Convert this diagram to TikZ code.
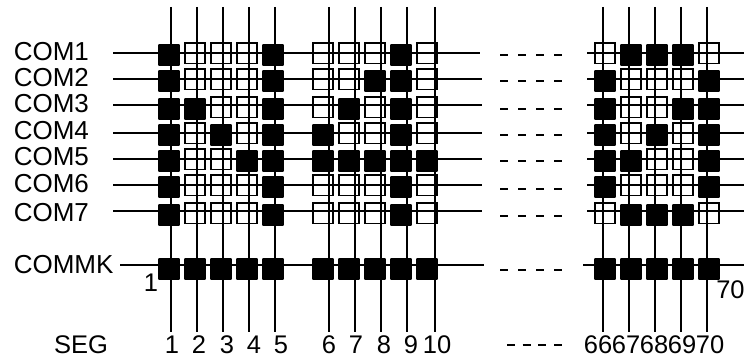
\documentclass[tikz,border=0pt]{standalone}
\usepackage{fontspec}
\setmainfont{Liberation Sans}
\usetikzlibrary{positioning}

\begin{document}
\begin{tikzpicture}[x=1pt, y=-1pt, line width=1.5pt, font=\fontsize{25.5}{26}\selectfont]
    % Styles
    \tikzstyle{cellopen} = [draw, rectangle, line width=1.6pt, minimum size=20.5pt, inner sep=0pt]
    \tikzstyle{cellfull} = [fill=black, rectangle, rounded corners=1pt, minimum size=21.8pt, inner sep=0pt]
    \tikzstyle{rowlabel} = [anchor=base west, inner sep=0pt, font=\fontsize{26}{26}\selectfont]
    \tikzstyle{seglabel} = [anchor=base, inner sep=0pt]
    \tikzstyle{gap} = [line width=2.4pt, dash pattern=on 8pt off 10pt]

    \useasboundingbox (0,0) rectangle (744,358);

    % Segment lines
    \foreach \x in {171,197,223,249,275,329,355,381,407,435,603,629,655,681,707} {
        \coordinate (top\x) at (\x,7);
        \coordinate (bot\x) at (\x,332);
        \draw (top\x) -- (bot\x);
    }

    % Common lines, first part
    \foreach \y/\xa in {53/480,79/482,105/482,133/482,159/482,185/482,211/482} {
        \coordinate (west\y) at (113,\y);
        \coordinate (mid\y) at (\xa,\y);
        \draw (west\y) -- (mid\y);
    }
    \coordinate (west265) at (120,265);
    \coordinate (mid265) at (484,265);
    \draw (west265) -- (mid265);

    % Common lines, last part
    \foreach \y in {53,79,105,133,159,185,211} {
        \coordinate (back\y) at (587,\y);
        \coordinate (east\y) at (744,\y);
        \draw (back\y) -- (east\y);
    }
    \coordinate (back265) at (583,265);
    \coordinate (east265) at (744,265);
    \draw (back265) -- (east265);

    % Dashes between the parts
    \foreach \y in {55,81,109,135,161,189,216,270} {
        \coordinate (gapa\y) at (500,\y);
        \coordinate (gapb\y) at (562,\y);
        \draw [gap] (gapa\y) -- (gapb\y);
    }
    \coordinate (gapa345) at (507,345);
    \coordinate (gapb345) at (562,345);
    \draw [gap, dash pattern=on 8pt off 7.7pt] (gapa345) -- (gapb345);

    % COM1
    \foreach \x in {195,221,247,323,349,375,427,605,709} \node (a\x) [cellopen] at (\x,53.3) {};
    \foreach \x in {169,273,401,631,657,683} \node (a\x) [cellfull] at (\x,55) {};
    % COM2
    \foreach \x in {195,221,247,323,349,427,631,657,683} \node (b\x) [cellopen] at (\x,79.3) {};
    \foreach \x in {169,273,375,401,605,709} \node (b\x) [cellfull] at (\x,81) {};
    % COM3
    \foreach \x in {221,247,323,375,427,631,657} \node (c\x) [cellopen] at (\x,107.3) {};
    \foreach \x in {169,195,273,349,401,605,683,709} \node (c\x) [cellfull] at (\x,109) {};
    % COM4
    \foreach \x in {195,247,349,375,427,631,683} \node (d\x) [cellopen] at (\x,133.3) {};
    \foreach \x in {169,221,273,323,401,605,657,709} \node (d\x) [cellfull] at (\x,135) {};
    % COM5
    \foreach \x in {195,221,657,683} \node (e\x) [cellopen] at (\x,159.3) {};
    \foreach \x in {169,247,273,323,349,375,401,427,605,631,709} \node (e\x) [cellfull] at (\x,161) {};
    % COM6
    \foreach \x in {195,221,247,323,349,375,427,631,657,683} \node (f\x) [cellopen] at (\x,185.3) {};
    \foreach \x in {169,273,401,605,709} \node (f\x) [cellfull] at (\x,187) {};
    % COM7
    \foreach \x in {195,221,247,323,349,375,427,605,709} \node (g\x) [cellopen] at (\x,213.3) {};
    \foreach \x in {169,273,401,631,657,683} \node (g\x) [cellfull] at (\x,215) {};
    % COMMK
    \foreach \x in {169,195,221,247,273,323,349,375,401,427,605,631,657,683,709} \node (k\x) [cellfull] at (\x,269) {};

    % Row labels
    \node (com1) [rowlabel] at (13,60.5) {COM1};
    \node (com2) [rowlabel] at (13,87) {COM2};
    \node (com3) [rowlabel] at (13,113) {COM3};
    \node (com4) [rowlabel] at (13,139.5) {COM4};
    \node (com5) [rowlabel] at (13,166) {COM5};
    \node (com6) [rowlabel] at (13,193) {COM6};
    \node (com7) [rowlabel] at (13,221.5) {COM7};
    \node (commk) [rowlabel] at (13,273.5) {COMMK};
    \node (first) [seglabel] at (151,291.5) {1};
    \node (last) [anchor=base west, inner sep=0pt] at (715.5,298) {70};

    % Segment labels
    \node (seg) [seglabel] at (81,353) {SEG};
    \foreach \x/\t in {172/1,199/2,227/3,254/4,281/5,329/6,356/7,384/8,411/9,437/10,598/66,626/67,654/68,682/69,710/70}
        \node (s\t) [seglabel] at (\x,353) {\t};
\end{tikzpicture}
\end{document}
